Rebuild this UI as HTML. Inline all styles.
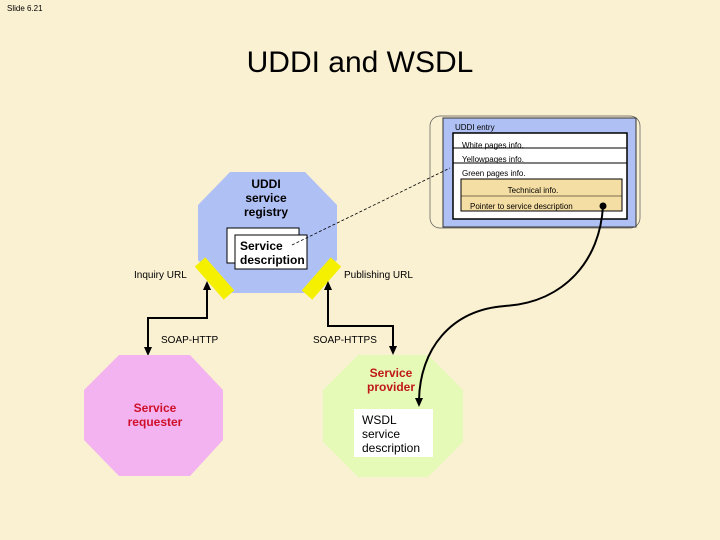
<!DOCTYPE html>
<html><head><meta charset="utf-8"><style>
body{margin:0;background:#FAF0D2;}
svg{display:block;font-family:"Liberation Sans",sans-serif;}
</style></head><body>
<svg width="720" height="540" viewBox="0 0 720 540">
<rect width="720" height="540" fill="#FAF0D2"/>
<text x="7" y="11" font-size="8" fill="#000">Slide 6.21</text>
<text x="360" y="72" font-size="30" text-anchor="middle" fill="#000">UDDI and WSDL</text>

<!-- UDDI entry -->
<rect x="430" y="116" width="210" height="112" rx="10" fill="none" stroke="#555" stroke-width="0.7"/>
<rect x="443" y="118" width="193" height="109" fill="#AFC0F5" stroke="#333" stroke-width="1"/>
<text x="455" y="130" font-size="8">UDDI entry</text>
<rect x="453" y="133" width="174" height="86" fill="#fff" stroke="#000" stroke-width="1.5"/>
<line x1="453" y1="148" x2="627" y2="148" stroke="#000"/>
<line x1="453" y1="163" x2="627" y2="163" stroke="#000"/>
<text x="462" y="148" font-size="8">White pages info.</text>
<text x="462" y="162" font-size="8">Yellowpages info.</text>
<text x="462" y="176" font-size="8">Green pages info.</text>
<rect x="461" y="179" width="161" height="32" fill="#F5DEA3" stroke="#000"/>
<line x1="461" y1="196" x2="622" y2="196" stroke="#000" stroke-width="0.6"/>
<text x="533" y="193" font-size="8" text-anchor="middle">Technical info.</text>
<text x="470" y="209" font-size="8">Pointer to service description</text>
<circle cx="603" cy="206" r="3.5" fill="#000"/>

<!-- registry -->
<polygon points="230,172 305,172 337,205 337,260 305,293 230,293 198,260 198,205" fill="#AFC0F5"/>
<text x="266" y="188" font-size="12" font-weight="bold" text-anchor="middle" fill="#000">UDDI</text>
<text x="266" y="202" font-size="12" font-weight="bold" text-anchor="middle">service</text>
<text x="266" y="216" font-size="12" font-weight="bold" text-anchor="middle">registry</text>
<rect x="227" y="228" width="72" height="35" fill="#fff" stroke="#000"/>
<rect x="235" y="235" width="72" height="34" fill="#fff" stroke="#000"/>
<text x="240" y="250" font-size="12" font-weight="bold">Service</text>
<text x="240" y="264" font-size="12" font-weight="bold">description</text>
<line x1="292" y1="245" x2="450" y2="168" stroke="#000" stroke-width="0.8" stroke-dasharray="3,2"/>
<line x1="200" y1="262" x2="229" y2="295" stroke="#F5F000" stroke-width="14"/>
<line x1="336" y1="262" x2="307" y2="295" stroke="#F5F000" stroke-width="14"/>
<text x="134" y="278" font-size="10">Inquiry URL</text>
<text x="344" y="278" font-size="10">Publishing URL</text>

<!-- arrows -->
<polyline points="207,288 207,318 148,318 148,350" fill="none" stroke="#000" stroke-width="2"/>
<polygon points="207,281 203,290 211,290" fill="#000"/>
<polygon points="148,356 144,347 152,347" fill="#000"/>
<polyline points="328,288 328,326 393,326 393,348" fill="none" stroke="#000" stroke-width="2"/>
<polygon points="328,281 324,290 332,290" fill="#000"/>
<polygon points="393,355 389,346 397,346" fill="#000"/>
<text x="161" y="343" font-size="10">SOAP-HTTP</text>
<text x="313" y="343" font-size="10">SOAP-HTTPS</text>

<!-- requester -->
<polygon points="119,355 190,355 223,390 223,440 190,476 119,476 84,440 84,390" fill="#F2B3F0"/>
<text x="155" y="412" font-size="12" font-weight="bold" text-anchor="middle" fill="#D0102A">Service</text>
<text x="155" y="426" font-size="12" font-weight="bold" text-anchor="middle" fill="#D0102A">requester</text>

<!-- provider -->
<polygon points="358,355 428,355 463,390 463,442 428,477 358,477 323,442 323,390" fill="#E6FAB8"/>
<text x="391" y="377" font-size="12" font-weight="bold" text-anchor="middle" fill="#C01818">Service</text>
<text x="391" y="391" font-size="12" font-weight="bold" text-anchor="middle" fill="#C01818">provider</text>
<rect x="354" y="409" width="79" height="48" fill="#fff"/>
<text x="362" y="424" font-size="12">WSDL</text>
<text x="362" y="438" font-size="12">service</text>
<text x="362" y="452" font-size="12">description</text>

<path d="M603,206 C600,260 565,302 505,306 C450,310 420,350 419,400" fill="none" stroke="#000" stroke-width="2"/>
<polygon points="419,407 415,398 423,398" fill="#000"/>
</svg>
</body></html>
